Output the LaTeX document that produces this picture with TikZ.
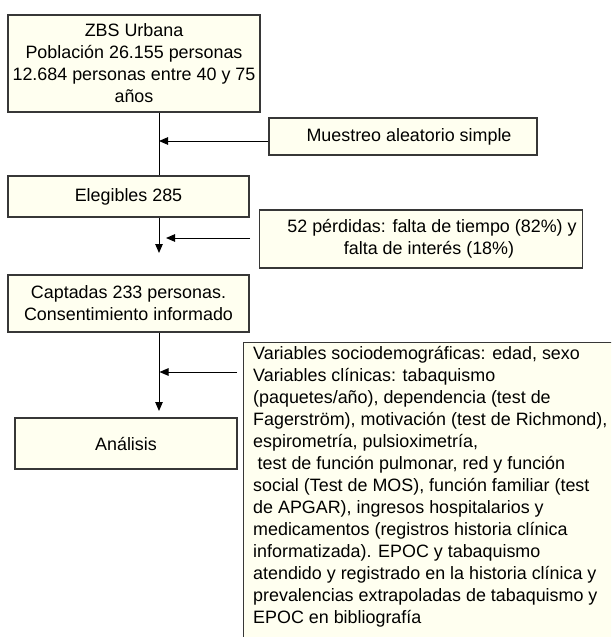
\documentclass[tikz,border=0pt]{standalone}
\usepackage{fontspec}
\setmainfont{Liberation Sans}
\usetikzlibrary{arrows.meta}
\definecolor{cream}{RGB}{255,255,240}
\definecolor{edge}{RGB}{55,55,55}
\begin{document}
\begin{tikzpicture}[x=1pt,y=-1pt,
  box/.style={draw=edge,line width=1.2pt,fill=cream,inner sep=0pt,align=center,
    font=\fontsize{17.9}{22}\selectfont},
  txt/.style={inner sep=0pt,align=left,font=\fontsize{17.9}{22}\selectfont},
  conn/.style={line width=1pt,draw=black},
  arr/.style={conn,-{Triangle[length=9pt,width=7.5pt]}}]
\useasboundingbox (0,0) rectangle (611,637);
\fill[white] (0,0) rectangle (611,637);
\coordinate (tx) at (159,0);
% boxes
\node[box,minimum width=252pt,minimum height=97pt] (zbs) at (134,63.5)
  {ZBS Urbana\\Población 26.155 personas\\12.684 personas entre 40 y 75\\años};
\node[box,minimum width=268pt,minimum height=37pt] (mue) at (403,136.5)
  {\hspace*{12pt}Muestreo aleatorio simple};
\node[box,minimum width=241pt,minimum height=41pt] (eleg) at (128.5,196.5)
  {Elegibles 285};
\node[box,minimum width=323pt,minimum height=58pt] (perd) at (421,239)
  {\hspace*{22pt}52 pérdidas: falta de tiempo (82\%) y\\\hspace*{16pt}falta de interés (18\%)};
\node[box,minimum width=241pt,minimum height=57pt] (capt) at (128.5,303.5)
  {Captadas 233 personas.\\Consentimiento informado};
\node[box,minimum width=222pt,minimum height=51pt] (ana) at (126,443.5)
  {Análisis};
\begin{scope}
\clip (0,0) rectangle (611,637);
\node[box,anchor=north west,minimum width=500pt,minimum height=400pt] (vars) at (243,342) {};
\end{scope}
\node[txt,anchor=north west] (vtext) at (253,346)
  {Variables sociodemográficas: edad, sexo\\
   Variables clínicas: tabaquismo\\
   (paquetes/año), dependencia (test de\\
   Fagerström), motivación (test de Richmond),\\
   espirometría, pulsioximetría,\\
   \hspace*{4.5pt}test de función pulmonar, red y función\\
   social (Test de MOS), función familiar (test\\
   de APGAR), ingresos hospitalarios y\\
   medicamentos (registros historia clínica\\
   informatizada). EPOC y tabaquismo\\
   atendido y registrado en la historia clínica y\\
   prevalencias extrapoladas de tabaquismo y\\
   EPOC en bibliografía};
% connectors
\coordinate (d1) at (159,253);
\coordinate (a2s) at (250,238);
\coordinate (a2e) at (166,238);
\coordinate (d2) at (159,411);
\coordinate (a3s) at (237,372);
\coordinate (a3e) at (159.5,372);
\draw[conn] (zbs.south -| tx) -- (eleg.north -| tx);
\draw[arr] ([yshift=-4.5pt]mue.west) -- ([yshift=-4.5pt]mue.west -| tx);
\draw[arr] (eleg.south -| tx) -- (d1);
\draw[arr] (a2s) -- (a2e);
\draw[arr] (capt.south -| tx) -- (d2);
\draw[arr] (a3s) -- (a3e);
\end{tikzpicture}
\end{document}
